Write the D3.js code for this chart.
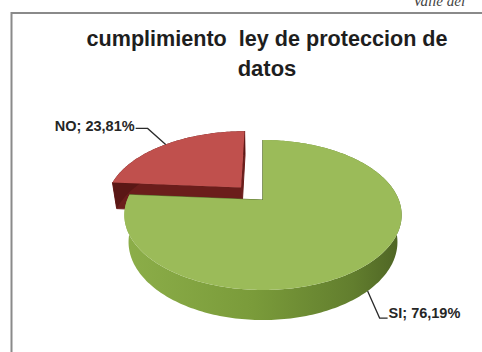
<!DOCTYPE html>
<html>
<head>
<meta charset="utf-8">
<script src="https://cdn.jsdelivr.net/npm/d3@7"></script>
<style>
  body { margin: 0; background: #fff; }
  svg { display: block; }
</style>
</head>
<body>
<div id="chart"></div>
<script>
// data
var categories = ["SI", "NO"];
var values = [76.19, 23.81];
var labels = ["SI; 76,19%", "NO; 23,81%"];
var titleLines = ["cumplimiento  ley de proteccion de", "datos"];
var exploded = [0, 0.246];   // pull-out of each slice, in radius units

var W = 482, H = 352;

var svg = d3.select("#chart")
  .append("svg")
    .attr("width", W)
    .attr("height", H)

// gradients for the sides
var defs = svg.append("defs")
var gG = defs.append("linearGradient").attr("id", "sideGreen")
    .attr("gradientUnits", "userSpaceOnUse")
    .attr("x1", 125).attr("y1", 0).attr("x2", 410).attr("y2", 0)
gG.append("stop").attr("offset", 0).attr("stop-color", "#8cae49")
gG.append("stop").attr("offset", 0.45).attr("stop-color", "#7a9b3a")
gG.append("stop").attr("offset", 0.8).attr("stop-color", "#627e2e")
gG.append("stop").attr("offset", 1).attr("stop-color", "#4a5f22")

// text from the document above the chart (cut off)
svg.append("text")
    .attr("x", 413)
    .attr("y", 6)
    .style("font-family", "Liberation Serif")
    .style("font-style", "italic")
    .style("font-size", "15px")
    .style("fill", "#444")
    .text("Valle del")

// chart frame
svg.append("rect")
    .attr("x", 11.5)
    .attr("y", 13)
    .attr("width", 500)
    .attr("height", 400)
    .style("fill", "#fff")
    .style("stroke", "#8a8a8a")
    .style("stroke-width", 2)

// title
svg.selectAll(".title")
  .data(titleLines)
  .enter()
  .append("text")
    .attr("class", "title")
    .attr("x", 267)
    .attr("y", function(d, i) { return 46 + i * 30; })
    .attr("text-anchor", "middle")
    .attr("textLength", function(d, i) { return i == 0 ? 361 : null; })
    .attr("lengthAdjust", "spacingAndGlyphs")
    .style("font-family", "Liberation Sans, Arial, sans-serif")
    .style("font-weight", "bold")
    .style("font-size", "22px")
    .style("fill", "#1e1e1e")
    .style("white-space", "pre")
    .text(function(d) { return d; })

// simple perspective camera for the 3d pie (radius = 1)
var cx = 263, cy = 200, F = 576, D = 4.24;
var tilt = 32 * Math.PI / 180, sinT = Math.sin(tilt), cosT = Math.cos(tilt);
var depth = 0.24;

function proj(X, Z, Hh) {
  var yc = Z * sinT + Hh * cosT;
  var zc = D + Z * cosT - Hh * sinT;
  return [cx + F * X / zc, cy - F * yc / zc];
}

var pie = d3.pie().sort(null).value(function(d) { return d; })
var arcs = pie(values)

function rim(d, a0, a1, h) {
  var pts = [];
  var n = Math.max(2, Math.ceil(Math.abs(a1 - a0) / 0.02));
  for (var k = 0; k <= n; k++) {
    var a = a0 + (a1 - a0) * k / n;
    pts.push(proj(d.ox + Math.sin(a), d.oz + Math.cos(a), h));
  }
  return pts;
}

arcs.forEach(function(d, i) {
  var mid = (d.startAngle + d.endAngle) / 2;
  d.ox = exploded[i] * Math.sin(mid);
  d.oz = exploded[i] * Math.cos(mid);
  d.mid = mid;
});

var line = d3.line()
var styles = [
  { top: "#9bbb59", side: "url(#sideGreen)", wall: "#5c7530" },
  { top: "#c0504d", side: "#5a1715", wall: "#6b1d1b" }
];

// back slice (NO) first, then the front slice
[1, 0].forEach(function(i) {
  var d = arcs[i], s = styles[i];
  var g = svg.append("g")
  var c0 = proj(d.ox, d.oz, 0), c1 = proj(d.ox, d.oz, -depth);

  // radial walls
  [d.startAngle, d.endAngle].forEach(function(a) {
    var t = proj(d.ox + Math.sin(a), d.oz + Math.cos(a), 0);
    var b = proj(d.ox + Math.sin(a), d.oz + Math.cos(a), -depth);
    g.append("path")
        .attr("d", line([c0, t, b, c1]) + "Z")
        .style("fill", s.wall)
        .style("stroke", s.wall)
        .style("stroke-width", 1)
  });

  // outer side
  var up = rim(d, d.startAngle, d.endAngle, 0);
  var dn = rim(d, d.startAngle, d.endAngle, -depth).reverse();
  g.append("path")
      .attr("d", line(up.concat(dn)) + "Z")
      .style("fill", s.side)

  // top face
  g.append("path")
      .attr("d", line([c0].concat(up)) + "Z")
      .style("fill", s.top)
});

// data labels with leader lines
var lblFont = "Liberation Sans, Arial, sans-serif";
arcs.forEach(function(d, i) {
  var p, pts, tx, ty, anchor;
  if (i == 0) {
    p = proj(d.ox + Math.sin(d.mid), d.oz + Math.cos(d.mid), -depth);
    pts = [p, [p[0] + 12, p[1] + 27], [p[0] + 20, p[1] + 27]];
    tx = p[0] + 21; ty = p[1] + 26.5; anchor = "start";
  } else {
    p = proj(d.ox + Math.sin(d.mid), d.oz + Math.cos(d.mid), 0);
    pts = [p, [p[0] - 18, p[1] - 16], [p[0] - 30, p[1] - 16]];
    tx = p[0] - 31; ty = p[1] - 13; anchor = "end";
  }
  svg.append("path")
      .attr("d", line(pts))
      .style("fill", "none")
      .style("stroke", "#2a2a2a")
      .style("stroke-width", 1.3)
  svg.append("text")
      .attr("x", tx)
      .attr("y", ty)
      .attr("text-anchor", anchor)
      .style("font-family", lblFont)
      .style("font-weight", "bold")
      .style("font-size", "14.5px")
      .style("fill", "#262626")
      .text(labels[i])
});
</script>
</body>
</html>
